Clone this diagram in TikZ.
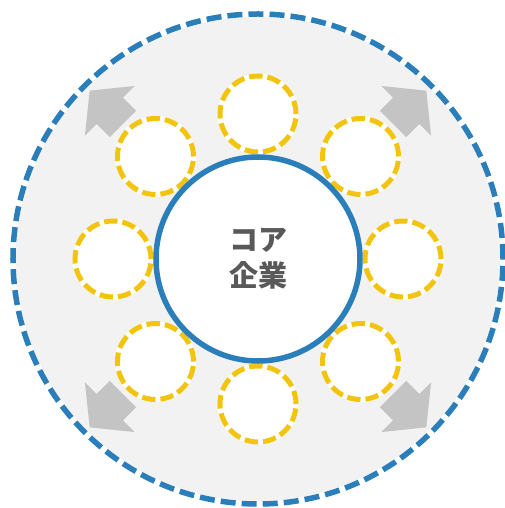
\documentclass[tikz,border=0pt]{standalone}
\usepackage{fontspec}
\newfontfamily\jpfont{Noto Sans CJK JP}
\usetikzlibrary{shapes.arrows}
\definecolor{coreblue}{HTML}{2A7FBA}
\definecolor{memberyellow}{HTML}{F2C40E}
\definecolor{fieldgray}{HTML}{F2F2F2}
\definecolor{arrowgray}{HTML}{C4C4C4}
\definecolor{textgray}{HTML}{595959}

\begin{document}
\begin{tikzpicture}[x=1pt,y=1pt]
    \tikzset{
        field/.style={circle, inner sep=0pt, minimum size=490pt, fill=fieldgray},
        member/.style={circle, inner sep=0pt, minimum size=76pt, fill=white,
            draw=white, line width=5pt,
            postaction={draw=memberyellow, line width=5pt,
                dash pattern=on 13.4pt off 5pt}},
        spread/.style={single arrow, inner xsep=0pt, inner ysep=18.5pt,
            fill=arrowgray, minimum height=47pt,
            single arrow head extend=16.5pt, single arrow tip angle=102},
    }
    \useasboundingbox (-258,-249) rectangle (247,259);
    % gray field with the arrows pointing outwards
    \node (field) [field] at (0,0) {};
    \foreach \a/\n in {135/NW, 45/NE, 225/SW, 315/SE}
        \node (grow\n) [spread, rotate=\a] at (\a:207pt) {};
    % dashed boundary on top of the arrows
    \draw[white, line width=5.5pt] (field.center) circle (245pt);
    \draw[coreblue, line width=5.5pt, dash pattern=on 15pt off 6.08pt]
        (field.center) circle (245pt);
    % partner companies
    \foreach \a [count=\i] in {90,45,0,-45,-90,-135,180,135}
        \node (member\i) [member] at (\a:145pt) {};
    % core company
    \node (core) [circle, inner sep=0pt, minimum size=204pt, fill=white,
        draw=coreblue, line width=5.5pt, align=center, text=textgray,
        font=\jpfont\bfseries\fontsize{29}{36}\selectfont] at (0,0) {コア\\企業};
\end{tikzpicture}
\end{document}
